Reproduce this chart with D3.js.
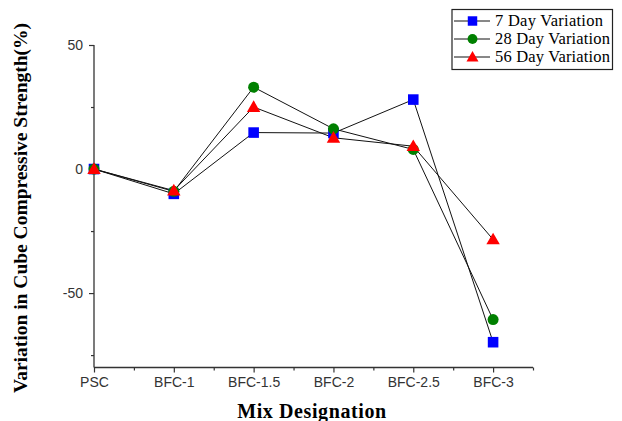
<!DOCTYPE html>
<html><head><meta charset="utf-8">
<script src="https://cdn.jsdelivr.net/npm/d3@7"></script>
<style>body{margin:0;background:#fff}</style>
</head><body>
<svg id="c" width="622" height="421"></svg>
<script>
const categories = ["PSC","BFC-1","BFC-1.5","BFC-2","BFC-2.5","BFC-3"];
const day7 = [0,-10,14.7,14.5,28,-69.8];
const day28 = [0,-9,33,16.2,7.9,-60.7];
const day56 = [0,-8.7,25,12.6,9.2,-28.4];
const seriesNames = ["7 Day Variation","28 Day Variation","56 Day Variation"];
const yTicks = [-50,0,50];
const yMinor = [-75,-25,25];

const svg = d3.select("#c");
const x = d3.scaleLinear().domain([0,5.5]).range([94,533]);
const y = d3.scaleLinear().domain([-80,50]).range([367.5,45]);
const axisColor = "#333";
const tickFont = "Liberation Sans, Arial, sans-serif";

// y axis
const ya = svg.append("g").attr("transform","translate(94,0)")
  .call(d3.axisLeft(y).tickValues(yTicks).tickSize(5).tickPadding(6).tickFormat(d=>String(d)));
ya.select(".domain").attr("d","M0,"+y(50)+"V"+y(-80)).attr("stroke",axisColor).attr("stroke-width",1.3);
ya.selectAll(".tick line").attr("stroke",axisColor).attr("stroke-width",1.2);
ya.selectAll(".tick text").attr("font-family",tickFont).attr("font-size",14).attr("fill","#333");
svg.append("g").attr("transform","translate(94,0)")
  .call(d3.axisLeft(y).tickValues(yMinor).tickSize(3).tickFormat(""))
  .call(g=>{g.select(".domain").remove();g.selectAll("line").attr("stroke",axisColor).attr("stroke-width",1.2);});

// x axis
const xa = svg.append("g").attr("transform","translate(0,367.5)")
  .call(d3.axisBottom(x).tickValues(d3.range(6)).tickSize(5).tickPadding(5).tickFormat(i=>categories[i]));
xa.select(".domain").attr("d","M94,0H533").attr("stroke",axisColor).attr("stroke-width",1.3);
xa.selectAll(".tick line").attr("stroke",axisColor).attr("stroke-width",1.2);
xa.selectAll(".tick text").attr("font-family",tickFont).attr("font-size",14).attr("fill","#333");
svg.append("g").attr("transform","translate(0,367.5)")
  .call(d3.axisBottom(x).tickValues([0.5,1.5,2.5,3.5,4.5,5.5]).tickSize(3).tickFormat(""))
  .call(g=>{g.select(".domain").remove();g.selectAll("line").attr("stroke",axisColor).attr("stroke-width",1.2);});

// titles
svg.append("text").attr("x",312).attr("y",418).attr("text-anchor","middle")
  .attr("font-family","Liberation Serif, Times New Roman, serif").attr("font-weight","bold").attr("font-size",20)
  .attr("letter-spacing",0.6)
  .text("Mix Designation");
svg.append("text").attr("transform","translate(26.5,208) rotate(-90)").attr("text-anchor","middle")
  .attr("font-family","Liberation Serif, Times New Roman, serif").attr("font-weight","bold").attr("font-size",19.5)
  .text("Variation in Cube Compressive Strength(%)");

const series = [
  {name:seriesNames[0], vals:day7, color:"#0000ff", shape:"square"},
  {name:seriesNames[1], vals:day28, color:"#008000", shape:"circle"},
  {name:seriesNames[2], vals:day56, color:"#ff0000", shape:"triangle"}
];
const sym = {square:d3.symbolSquare, circle:d3.symbolCircle, triangle:d3.symbolTriangle};
const symSize = {square:112, circle:95, triangle:78};
const line = d3.line().x((d,i)=>x(i)).y(d=>y(d));
series.forEach(s=>{
  svg.append("path").attr("d",line(s.vals)).attr("fill","none").attr("stroke","#111").attr("stroke-width",1);
});
series.forEach(s=>{
  svg.append("g").selectAll("path").data(s.vals).join("path")
    .attr("transform",(d,i)=>`translate(${x(i)},${y(d)+(s.shape==="triangle"?1:0)})`)
    .attr("d",d3.symbol().type(sym[s.shape]).size(symSize[s.shape])())
    .attr("fill",s.color);
});

// legend
const lg = svg.append("g");
lg.append("rect").attr("x",452).attr("y",9.5).attr("width",160.5).attr("height",60)
  .attr("fill","#fff").attr("stroke","#222").attr("stroke-width",1.2);
series.forEach((s,i)=>{
  const yy = 21 + i*18;
  lg.append("line").attr("x1",454).attr("x2",490).attr("y1",yy).attr("y2",yy).attr("stroke","#111").attr("stroke-width",1);
  lg.append("path").attr("transform",`translate(472.5,${yy+(s.shape==="triangle"?1:0)})`)
    .attr("d",d3.symbol().type(sym[s.shape]).size(symSize[s.shape]*0.8)()).attr("fill",s.color);
  lg.append("text").attr("x",495).attr("y",yy+5)
    .attr("font-family","Liberation Serif, Times New Roman, serif").attr("font-size",16.5)
    .attr("textLength", i===0?108:115).attr("lengthAdjust","spacing")
    .text(s.name);
});
</script>
</body></html>
